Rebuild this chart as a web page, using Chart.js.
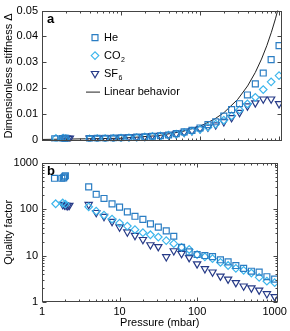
<!DOCTYPE html>
<html>
<head>
<meta charset="utf-8">
<script src="https://cdn.jsdelivr.net/npm/chart.js@4.4.1/dist/chart.umd.min.js"></script>
<style>
html, body { margin: 0; padding: 0; background: #fff; }
#wrap { position: relative; width: 290px; height: 331px; }
#stiffChart { position: absolute; left: 0; top: 0; }
#qChart { position: absolute; left: 0; top: 152px; }
</style>
</head>
<body>
<div id="wrap">
  <canvas id="stiffChart" width="290" height="152"></canvas>
  <canvas id="qChart" width="290" height="179"></canvas>
</div>
<script>
// pressures (mbar) of the main sweep
const pressure = [4, 5, 6.3, 8, 10, 12.6, 15.8, 20, 25, 31.6, 40, 50, 63, 79, 100, 126, 158, 200, 251, 316, 398, 501, 631, 794, 1000];

// low pressure clusters
const heLowP = [1.45, 1.8, 1.9, 1.95, 2.0];
const heLowD = [0.0003, 0.0004, 0.0004, 0.0005, 0.0005];
const heLowQ = [460, 460, 470, 495, 520];
const co2LowP = [1.5, 1.85, 2.0];
const co2LowD = [0.0005, 0.0006, 0.0004];
const co2LowQ = [130, 135, 128];
const sf6LowP = [1.85, 1.95, 2.05, 2.15, 2.25];
const sf6LowD = [0.0005, 0.0006, 0.0005, 0.0004, 0.0005];
const sf6LowQ = [125, 122, 120, 118, 120];

// dimensionless stiffness
const heD  = [0.0004, 0.0005, 0.0005, 0.0006, 0.0007, 0.0008, 0.0010, 0.0011, 0.0013, 0.0015, 0.0018, 0.0023, 0.0030, 0.0036, 0.0045, 0.0058, 0.0069, 0.0091, 0.0116, 0.0139, 0.0173, 0.0216, 0.0258, 0.0310, 0.0364];
const co2D = [0.0003, 0.0004, 0.0004, 0.0005, 0.0006, 0.0007, 0.0008, 0.0010, 0.0012, 0.0014, 0.0017, 0.0021, 0.0027, 0.0033, 0.0040, 0.0048, 0.0060, 0.0075, 0.0092, 0.0115, 0.0138, 0.0164, 0.0194, 0.0224, 0.0248];
const sf6D = [0.0005, 0.0005, 0.0006, 0.0006, 0.0008, 0.0010, 0.0011, 0.0012, 0.0015, 0.0016, 0.0018, 0.0022, 0.0028, 0.0034, 0.0042, 0.0048, 0.0057, 0.0069, 0.0085, 0.0105, 0.0130, 0.0142, 0.0157, 0.0157, 0.0139];

// quality factor
const heQ  = [300, 208, 169, 129, 110, 87, 70, 60, 48, 41, 34, 26, 15, 12, 10.5, 10, 9.5, 8.1, 7.3, 6.1, 5.3, 4.6, 4.4, 3.5, 3.1];
const co2Q = [112, 90, 74, 61, 50, 43, 36, 31, 28, 25, 21, 18, 15, 13.5, 10.5, 9.4, 8.6, 7.1, 6.1, 5.3, 4.8, 4.2, 3.4, 2.8, 2.6];
const sf6Q = [125, 84, 69, 54, 41, 32, 27, 22, 17, 15.5, 9.4, 12.6, 11, 9, 6.6, 5.2, 4.4, 3.6, 3.1, 2.6, 2.2, 2.0, 1.8, 1.5, 1.3];

// linear behavior reference line
const linP = [1, 10, 30, 60, 100, 150, 200, 300, 400, 500, 600, 700, 800, 900, 1000];
const linD = [0.00005, 0.00052, 0.00156, 0.00312, 0.0052, 0.0078, 0.0104, 0.0156, 0.0208, 0.026, 0.0312, 0.0364, 0.0416, 0.0468, 0.052];

// ticks
const xTicks = [1, 2, 3, 4, 5, 6, 7, 8, 9, 10, 20, 30, 40, 50, 60, 70, 80, 90, 100, 200, 300, 400, 500, 600, 700, 800, 900, 1000];
const xTickLabels = [1, 10, 100, 1000];
const stiffTicks = [0, 0.01, 0.02, 0.03, 0.04, 0.05];
const stiffTickLabels = ['0', '0.01', '0.02', '0.03', '0.04', '0.05'];
const qTicks = [1, 2, 3, 4, 5, 6, 7, 8, 9, 10, 20, 30, 40, 50, 60, 70, 80, 90, 100, 200, 300, 400, 500, 600, 700, 800, 900, 1000];
const qTickLabels = [1, 10, 100, 1000];

const heColor = 'rgb(42,125,195)';
const co2Color = 'rgb(62,182,236)';
const sf6Color = 'rgb(38,58,135)';
const axisColor = '#444';

Chart.defaults.font.family = "'Liberation Sans', Arial, sans-serif";
Chart.defaults.font.size = 11;
Chart.defaults.color = '#000';

function pts(xs, ys) {
    return xs.map((x, i) => ({ x: x, y: ys[i] }));
}

function markerSet(label, xs, ys, color, style, rot, r) {
    return {
        label: label,
        data: pts(xs, ys),
        showLine: false,
        pointStyle: style,
        rotation: rot,
        pointRadius: r,
        pointBorderWidth: 1.2,
        borderColor: color,
        backgroundColor: 'rgba(255,255,255,0)',
        pointBackgroundColor: 'rgba(255,255,255,0)'
    };
}

// inward ticks on all four sides plus a box frame
const frameTicks = {
    id: 'frameTicks',
    afterDraw(chart) {
        const ctx = chart.ctx, a = chart.chartArea;
        const L = Math.round(a.left) + 0.5, R = Math.round(a.right) - 0.5;
        const T = Math.round(a.top) + 0.5, B = Math.round(a.bottom) - 0.5;
        ctx.save();
        ctx.strokeStyle = axisColor;
        ctx.lineWidth = 1;
        ctx.strokeRect(L, T, R - L, B - T);
        const xs = chart.scales.x, ys = chart.scales.y;
        ctx.beginPath();
        xs.ticks.forEach(t => {
            const p = Math.round(xs.getPixelForValue(t.value)) + 0.5;
            const len = t.label !== '' ? 4 : 2;
            ctx.moveTo(p, B); ctx.lineTo(p, B - len);
            ctx.moveTo(p, T); ctx.lineTo(p, T + len);
        });
        ys.ticks.forEach(t => {
            const p = Math.round(ys.getPixelForValue(t.value)) + 0.5;
            const len = t.label !== '' ? 4 : 2;
            ctx.moveTo(L, p); ctx.lineTo(L + len, p);
            ctx.moveTo(R, p); ctx.lineTo(R - len, p);
        });
        ctx.stroke();
        // panel letter
        ctx.fillStyle = '#000';
        ctx.font = "bold 13px 'Liberation Sans', Arial, sans-serif";
        ctx.textBaseline = 'alphabetic';
        ctx.fillText(chart.options.plugins.panelLetter, a.left + 5, a.top + 12);
        ctx.restore();
    }
};

// legend drawn inside panel a
const innerLegend = {
    id: 'innerLegend',
    afterDraw(chart) {
        if (!chart.options.plugins.innerLegend) return;
        const ctx = chart.ctx, a = chart.chartArea;
        const items = [
            { ds: 0, text: 'He', sub: '' },
            { ds: 1, text: 'CO', sub: '2' },
            { ds: 2, text: 'SF', sub: '6' }
        ];
        const mx = a.left + 53, tx = a.left + 62;
        let y = a.top + 27;
        ctx.save();
        items.forEach(it => {
            const ds = chart.data.datasets[it.ds];
            ctx.strokeStyle = ds.borderColor;
            ctx.fillStyle = 'rgba(255,255,255,0)';
            ctx.lineWidth = 1.2;
            Chart.helpers.drawPoint(ctx, { pointStyle: ds.pointStyle, rotation: ds.rotation, radius: ds.pointRadius, borderWidth: 1.2 }, mx, y);
            ctx.fillStyle = '#000';
            ctx.font = "11px 'Liberation Sans', Arial, sans-serif";
            ctx.textBaseline = 'middle';
            ctx.fillText(it.text, tx, y);
            if (it.sub) {
                const w = ctx.measureText(it.text).width;
                ctx.font = "7px 'Liberation Sans', Arial, sans-serif";
                ctx.fillText(it.sub, tx + w + 0.5, y + 4);
            }
            y += 18;
        });
        ctx.strokeStyle = '#222';
        ctx.lineWidth = 1;
        ctx.beginPath();
        ctx.moveTo(a.left + 44, y + 0.5);
        ctx.lineTo(a.left + 58, y + 0.5);
        ctx.stroke();
        ctx.fillStyle = '#000';
        ctx.font = "11px 'Liberation Sans', Arial, sans-serif";
        ctx.textBaseline = 'middle';
        ctx.fillText('Linear behavior', tx, y);
        ctx.restore();
    }
};

function xScale(showLabels, h) {
    return {
        type: 'logarithmic',
        min: 1,
        max: 1090,
        afterBuildTicks: s => { s.ticks = xTicks.map(v => ({ value: v })); },
        afterFit: s => { s.height = h; },
        grid: { display: false, drawTicks: false },
        border: { display: false },
        ticks: {
            display: showLabels,
            autoSkip: false,
            maxRotation: 0,
            padding: 3,
            callback: v => xTickLabels.includes(v) ? String(v) : ''
        },
        title: {
            display: showLabels,
            text: 'Pressure (mbar)',
            padding: { top: 0, bottom: 1 }
        }
    };
}

new Chart(document.getElementById('stiffChart').getContext('2d'), {
    type: 'scatter',
    data: {
        datasets: [
            markerSet('He', heLowP.concat(pressure), heLowD.concat(heD), heColor, 'rect', 0, 4.2),
            markerSet('CO2', co2LowP.concat(pressure), co2LowD.concat(co2D), co2Color, 'rectRot', 0, 3.8),
            markerSet('SF6', sf6LowP.concat(pressure), sf6LowD.concat(sf6D), sf6Color, 'triangle', 180, 4.2),
            {
                label: 'Linear behavior',
                data: pts(linP, linD),
                showLine: true,
                borderColor: '#222',
                borderWidth: 1,
                pointRadius: 0,
                fill: false
            }
        ]
    },
    options: {
        responsive: false,
        animation: false,
        layout: { padding: { top: 6, right: 8, left: 2, bottom: 0 } },
        plugins: { legend: { display: false }, tooltip: { enabled: false }, panelLetter: 'a', innerLegend: true },
        scales: {
            x: xScale(false, 5),
            y: {
                type: 'linear',
                min: -0.0007,
                max: 0.05,
                afterBuildTicks: s => { s.ticks = stiffTicks.map(v => ({ value: v })); },
                afterFit: s => { s.width = 40; },
                grid: { display: false, drawTicks: false },
                border: { display: false },
                ticks: {
                    padding: 4,
                    callback: v => {
                        const i = stiffTicks.findIndex(t => Math.abs(t - v) < 1e-9);
                        return i >= 0 ? stiffTickLabels[i] : '';
                    }
                },
                title: { display: true, text: 'Dimensionless stiffness \u0394', padding: { top: 0, bottom: 0 } }
            }
        }
    },
    plugins: [frameTicks, innerLegend]
});

new Chart(document.getElementById('qChart').getContext('2d'), {
    type: 'scatter',
    data: {
        datasets: [
            markerSet('He', heLowP.concat(pressure), heLowQ.concat(heQ), heColor, 'rect', 0, 4.2),
            markerSet('CO2', co2LowP.concat(pressure), co2LowQ.concat(co2Q), co2Color, 'rectRot', 0, 3.8),
            markerSet('SF6', sf6LowP.concat(pressure), sf6LowQ.concat(sf6Q), sf6Color, 'triangle', 180, 4.2)
        ]
    },
    options: {
        responsive: false,
        animation: false,
        layout: { padding: { top: 5, right: 8, left: 2, bottom: 0 } },
        plugins: { legend: { display: false }, tooltip: { enabled: false }, panelLetter: 'b', innerLegend: false },
        scales: {
            x: xScale(true, 29),
            y: {
                type: 'logarithmic',
                min: 1,
                max: 1000,
                afterBuildTicks: s => { s.ticks = qTicks.map(v => ({ value: v })); },
                afterFit: s => { s.width = 40; },
                grid: { display: false, drawTicks: false },
                border: { display: false },
                ticks: {
                    padding: 4,
                    autoSkip: false,
                    callback: v => qTickLabels.includes(v) ? String(v) : ''
                },
                title: { display: true, text: 'Quality factor', padding: { top: 0, bottom: 0 } }
            }
        }
    },
    plugins: [frameTicks]
});
</script>
</body>
</html>
